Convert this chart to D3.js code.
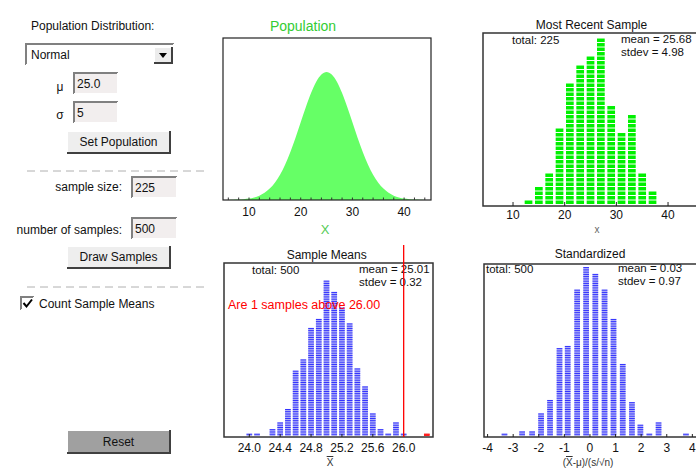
<!DOCTYPE html>
<html lang="en">
<head>
<meta charset="utf-8">
<title>Sampling Distributions</title>
<script src="https://cdn.jsdelivr.net/npm/d3@7"></script>
<style>
  body { margin: 0; background: #fff; }
  svg text { font-family: "Liberation Sans", Arial, sans-serif; }
</style>
</head>
<body>
<svg id="app"></svg>
<script>
// ---- data ----
var popX = [5,6,7,8,9,10,11,12,13,14,15,16,17,18,19,20,21,22,23,24,25,26,27,28,29,30,31,32,33,34,35,36,37,38,39,40,41,42,43,44,45];
var popHeight = [0.0003,0.0007,0.0015,0.003,0.006,0.011,0.020,0.034,0.056,0.089,0.135,0.198,0.278,0.375,0.487,0.607,0.726,0.835,0.923,0.980,1.000,
                 0.980,0.923,0.835,0.726,0.607,0.487,0.375,0.278,0.198,0.135,0.089,0.056,0.034,0.020,0.011,0.006,0.003,0.0015,0.0007,0.0003];
var popTicks = [10, 20, 30, 40];
var popMinor = [6,8,10,12,14,16,18,20,22,24,26,28,30,32,34,36,38,40,42,44];

var recentBins = [13,15,17,19,21,23,25,27,29,31,33,35,37];
var recentCounts = [1,4,7,17,27,31,33,37,22,16,20,7,3];
var recentTicks = [10, 20, 30, 40];

var meanBins = [24.0,24.1,24.2,24.3,24.4,24.5,24.6,24.7,24.8,24.9,25.0,25.1,25.2,25.3,25.4,25.5,25.6,25.7,25.8,25.9,26.0,26.1,26.2,26.3];
var meanCounts = [1,1,0,3,6,12,29,34,48,52,69,64,57,50,30,22,10,3,1,6,1,0,0,1];
var meanTicks = [24.0, 24.4, 24.8, 25.2, 25.6, 26.0];
var cutoff = 26.0;

var stdBins = [-3.34,-2.65,-2.26,-1.91,-1.56,-1.19,-0.87,-0.50,-0.15,0.21,0.57,0.92,1.28,1.64,1.97,2.32,2.68,3.75];
var stdCounts = [1,2,2,10,16,39,40,65,75,72,65,52,32,15,5,1,6,1];
var stdTicks = [-4,-3,-2,-1,0,1,2,3,4];

var W = 696, H = 468;
var svg = d3.select("#app").attr("width", W).attr("height", H);

// ---- left control panel ----
function label(x, y, txt, anchor) {
  svg.append("text").attr("x", x).attr("y", y).attr("text-anchor", anchor || "start")
     .style("font-size", "12px").attr("fill", "#111").text(txt);
}
function bevel(x, y, w, h, fill, sunken) {
  var lt = sunken ? "#808080" : "#ffffff", rb = sunken ? "#ffffff" : "#404040";
  svg.append("rect").attr("x", x).attr("y", y).attr("width", w).attr("height", h).attr("fill", fill);
  svg.append("path").attr("d", "M" + x + "," + (y + h) + "V" + y + "H" + (x + w))
     .attr("stroke", lt).attr("stroke-width", 2).attr("fill", "none");
  svg.append("path").attr("d", "M" + x + "," + (y + h) + "H" + (x + w) + "V" + y)
     .attr("stroke", rb).attr("stroke-width", 2).attr("fill", "none");
}
function button(x, y, w, h, txt, fill) {
  bevel(x, y, w, h, fill, false);
  label(x + w / 2, y + h / 2 + 4, txt, "middle");
}
function input(x, y, w, h, txt) {
  bevel(x, y, w, h, "#f2eeee", true);
  label(x + 3, y + h / 2 + 4, txt);
}

label(31, 30, "Population Distribution:");
bevel(26, 44, 148, 21, "#ffffff", true);
label(31, 59, "Normal");
bevel(154, 47, 18, 16, "#ececec", false);
svg.append("path").attr("d", "M159,53 L167,53 L163,58 Z").attr("fill", "#000");

label(60, 91, "\u03bc", "middle");
input(74, 73, 44, 21, "25.0");
label(60, 119, "\u03c3", "middle");
input(74, 102, 44, 21, "5");
button(67, 131, 103, 22, "Set Population", "#eeeeee");

svg.append("line").attr("x1", 27).attr("x2", 207).attr("y1", 171).attr("y2", 171)
   .attr("stroke", "#b0b0b0").attr("stroke-dasharray", "8,5");

label(122, 191, "sample size:", "end");
input(132, 177, 45, 21, "225");
label(122, 234, "number of samples:", "end");
input(132, 218, 45, 21, "500");
button(67, 246, 103, 22, "Draw Samples", "#eeeeee");

svg.append("line").attr("x1", 27).attr("x2", 207).attr("y1", 287).attr("y2", 287)
   .attr("stroke", "#b0b0b0").attr("stroke-dasharray", "8,5");

bevel(21, 297, 13, 13, "#ffffff", true);
svg.append("path").attr("d", "M23.5,303 L26.5,306.5 L32,299.5").attr("stroke", "#000")
   .attr("stroke-width", 2).attr("fill", "none");
label(39, 308, "Count Sample Means");

button(67, 430, 103, 23, "Reset", "#a0a0a0");

// ---- charts ----
function frame(x0, x1, y0, y1, color, sw) {
  svg.append("rect").attr("x", x0).attr("y", y0).attr("width", x1 - x0).attr("height", y1 - y0)
     .attr("fill", "none").attr("stroke", color).attr("stroke-width", sw);
}
function ticks(xs, vals, yBase, len, fmt, labelY) {
  svg.append("g").selectAll("line").data(vals).enter().append("line")
     .attr("x1", d => xs(d)).attr("x2", d => xs(d))
     .attr("y1", yBase).attr("y2", yBase - len)
     .attr("stroke", "#222").attr("stroke-width", 1);
  svg.append("g").selectAll("text").data(vals).enter().append("text")
     .attr("x", d => xs(d)).attr("y", labelY).attr("text-anchor", "middle")
     .style("font-size", "12px").attr("fill", "#111").text(fmt);
}
function stats(x, y, lines) {
  lines.forEach(function (t, i) {
    svg.append("text").attr("x", x).attr("y", y + i * 13)
       .style("font-size", "11.5px").attr("fill", "#111").text(t);
  });
}
function cells(bins, counts, xs, ys, bw, colorFn, striped) {
  var data = [];
  bins.forEach(function (b, i) {
    for (var k = 0; k < counts[i]; k++) data.push({ b: b, k: k });
  });
  var g = svg.append("g");
  g.selectAll("rect.c").data(data).enter().append("rect")
   .attr("x", d => xs(d.b) - bw / 2).attr("width", bw)
   .attr("y", d => ys(d.k + 1))
   .attr("height", d => striped ? ys(d.k) - ys(d.k + 1) : ys(d.k) - ys(d.k + 1) - 1)
   .attr("fill", d => colorFn(d.b, striped ? 0 : 1));
  if (striped) {
    g.selectAll("rect.l").data(data).enter().append("rect")
     .attr("x", d => xs(d.b) - bw / 2).attr("width", bw)
     .attr("y", d => ys(d.k + 1)).attr("height", 0.9)
     .attr("fill", d => colorFn(d.b, 1));
  }
}

// Population
var popXs = d3.scaleLinear().domain([4.97, 45.2]).range([223, 431]);
var popYs = d3.scaleLinear().domain([0, 1]).range([200, 72]);
var pop = popX.map((x, i) => ({ x: x, h: popHeight[i] }));
svg.append("path").datum(pop)
   .attr("d", d3.area().x(d => popXs(d.x)).y0(popYs(0)).y1(d => popYs(d.h)).curve(d3.curveMonotoneX))
   .attr("fill", "#66ff66");
frame(223, 431, 38, 200, "#222", 1.2);
svg.append("g").selectAll("line").data(popMinor).enter().append("line")
   .attr("x1", d => popXs(d)).attr("x2", d => popXs(d)).attr("y1", 200).attr("y2", 197.5)
   .attr("stroke", "#333").attr("stroke-width", 1);
svg.append("g").selectAll("text").data(popTicks).enter().append("text")
   .attr("x", d => popXs(d)).attr("y", 216).attr("text-anchor", "middle")
   .style("font-size", "12px").attr("fill", "#111").text(d => d);
svg.append("text").attr("x", 303).attr("y", 31).attr("text-anchor", "middle")
   .style("font-size", "14px").attr("fill", "#33cc33").text("Population");
svg.append("text").attr("x", 325).attr("y", 234).attr("text-anchor", "middle")
   .style("font-size", "13px").attr("fill", "#55cc55").text("X");

// Most Recent Sample
var recXs = d3.scaleLinear().domain([4.19, 45.8]).range([483, 698]);
var recYs = d3.scaleLinear().domain([0, 38.45]).range([205, 32]);
cells(recentBins, recentCounts, recXs, recYs, 7.7, () => "#00f000", false);
frame(483, 698, 33, 206, "#333", 1.5);
ticks(recXs, recentTicks, 206, 4, d => d, 219);
svg.append("text").attr("x", 591.5).attr("y", 29).attr("text-anchor", "middle")
   .style("font-size", "12px").attr("fill", "#111").text("Most Recent Sample");
stats(512, 44, ["total: 225"]);
stats(621, 43, ["mean = 25.68", "stdev = 4.98"]);
svg.append("text").attr("x", 597).attr("y", 233).attr("text-anchor", "middle")
   .style("font-size", "10px").attr("fill", "#666").text("x");

// Sample Means
var mXs = d3.scaleLinear().domain([23.672, 26.38]).range([224, 433]);
var mYs = d3.scaleLinear().domain([0, 77.3]).range([436, 262]);
cells(meanBins, meanCounts, mXs, mYs, 5.7,
      (b, dark) => b > cutoff ? "#ff2020" : (dark ? "#2424ff" : "#b0b0f6"), true);
frame(224, 433, 263, 437, "#333", 1.5);
ticks(mXs, meanTicks, 437, 3, d => d.toFixed(1), 452);
svg.append("text").attr("x", 326.7).attr("y", 259).attr("text-anchor", "middle")
   .style("font-size", "12px").attr("fill", "#111").text("Sample Means");
stats(252, 274, ["total: 500"]);
stats(359, 273, ["mean = 25.01", "stdev = 0.32"]);
svg.append("line").attr("x1", mXs(cutoff)).attr("x2", mXs(cutoff)).attr("y1", 245).attr("y2", 437)
   .attr("stroke", "#ff0000").attr("stroke-width", 1.3);
svg.append("text").attr("x", 228).attr("y", 309).style("font-size", "12.5px").attr("fill", "#ff0000")
   .text("Are 1 samples above 26.00");
svg.append("text").attr("x", 330).attr("y", 466).attr("text-anchor", "middle")
   .style("font-size", "10px").style("text-decoration", "overline").attr("fill", "#333").text("X");

// Standardized
var sXs = d3.scaleLinear().domain([-4.14, 4.26]).range([484, 699]);
var sYs = d3.scaleLinear().domain([0, 77.3]).range([436, 262]);
cells(stdBins, stdCounts, sXs, sYs, 5.7, (b, dark) => dark ? "#2424ff" : "#b0b0f6", true);
frame(484, 699, 264, 437, "#333", 1.5);
ticks(sXs, stdTicks, 437, 3, d => d, 452);
svg.append("text").attr("x", 590).attr("y", 258).attr("text-anchor", "middle")
   .style("font-size", "12px").attr("fill", "#111").text("Standardized");
stats(486, 273, ["total: 500"]);
stats(618, 272, ["mean = 0.03", "stdev = 0.97"]);
var sl = svg.append("text").attr("x", 588).attr("y", 466).attr("text-anchor", "middle")
   .style("font-size", "10px").attr("fill", "#333");
sl.append("tspan").text("(");
sl.append("tspan").style("text-decoration", "overline").text("X");
sl.append("tspan").text("-\u03bc)/(s/\u221an)");
</script>
</body>
</html>
